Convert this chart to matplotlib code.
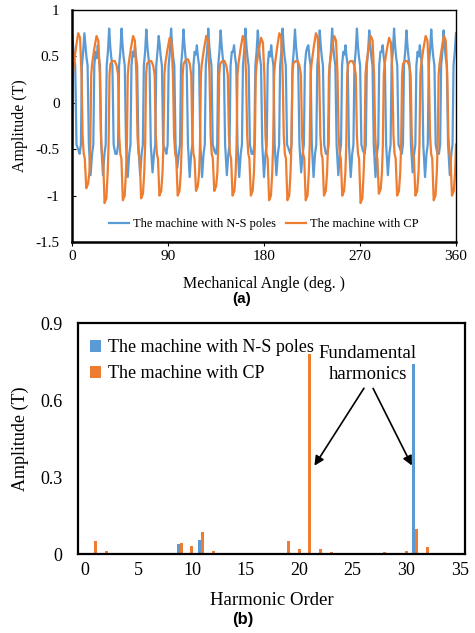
import numpy as np
import matplotlib.pyplot as plt

plt.rcParams['font.family'] = ['Liberation Serif', 'DejaVu Serif']

# =======================
# DATA
# =======================
# (a) air-gap flux density vs mechanical angle
NS_POLE_PAIRS = 31
CP_POLE_PAIRS = 21

# peak / trough of each electrical period
ns_peak = [0.75, 0.75, 0.48, 0.80, 0.80, 0.50, 0.79, 0.72, 0.80, 0.79, 0.52,
           0.80, 0.78, 0.55, 0.80, 0.78, 0.50, 0.80, 0.79, 0.60, 0.78, 0.80,
           0.52, 0.80, 0.78, 0.55, 0.80, 0.78, 0.50, 0.79, 0.78]
ns_trough = [-0.50, -0.78, -0.78, -0.55, -0.80, -0.78, -0.75, -0.50, -0.70,
             -0.80, -0.80, -0.52, -0.78, -0.80, -0.55, -0.80, -0.78, -0.50,
             -0.75, -0.80, -0.55, -0.78, -0.80, -0.52, -0.80, -0.78, -0.50,
             -0.75, -0.80, -0.55, -0.78]
cp_peak = [0.75, 0.72, 0.45, 0.72, 0.45, 0.70, 0.47, 0.72, 0.45, 0.72, 0.70,
           0.75, 0.45, 0.75, 0.72, 0.45, 0.72, 0.70, 0.45, 0.72, 0.72]
cp_trough = [-0.92, -1.08, -1.05, -1.03, -1.00, -1.00, -0.95, -0.95, -1.00,
             -1.00, -1.05, -1.05, -1.05, -1.00, -1.00, -1.08, -0.98, -1.00,
             -1.00, -1.05, -1.00]

# position inside one electrical period (0..1)
ns_phase = [0.0, 0.08, 0.16, 0.26, 0.36, 0.5, 0.62, 0.72, 0.8, 0.9]
cp_phase = [0.0, 0.05, 0.10, 0.22, 0.34, 0.44, 0.52, 0.58, 0.64, 0.70, 0.78, 0.88, 0.95]

# (b) harmonic spectrum
ns_order = [9, 11, 29, 31, 33]
ns_amp = [0.039, 0.056, 0.004, 0.74, 0.003]
cp_order = [1, 2, 4, 9, 10, 11, 12, 19, 20, 21, 22, 23, 28, 30, 31, 32]
cp_amp = [0.052, 0.010, 0.005, 0.043, 0.030, 0.086, 0.012, 0.050, 0.018,
          0.78, 0.018, 0.008, 0.006, 0.012, 0.099, 0.028]

BLUE = '#5B9BD5'
ORANGE = '#ED7D31'


def ns_cycle(hi, lo):
    return [hi, 0.62, 0.5, 0.4, -0.45, lo, -0.55, -0.45, 0.4, 0.55]


def cp_cycle(hi, lo):
    return [-0.45, 0.3, 0.42, (hi + 0.45) / 2, hi, hi - 0.05, 0.3, -0.35,
            -0.55, -0.6, lo, lo + 0.05, -0.75]


def build_wave(peaks, troughs, phase, cycle, end_value):
    period = 360.0 / len(peaks)
    ang, val = [], []
    for k, (hi, lo) in enumerate(zip(peaks, troughs)):
        ang += [(k + p) * period for p in phase]
        val += cycle(hi, lo)
    ang.append(360.0)
    val.append(end_value)
    return np.array(ang), np.array(val)


ns_ang, ns_val = build_wave(ns_peak, ns_trough, ns_phase, ns_cycle, ns_peak[0])
cp_ang, cp_val = build_wave(cp_peak, cp_trough, cp_phase, cp_cycle, -0.45)

# =======================
# FIGURE
# =======================
fig = plt.figure(figsize=(4.75, 6.33), dpi=100)
ax1 = fig.add_axes([0.1516, 0.6177, 0.8084, 0.3665])
ax2 = fig.add_axes([0.164, 0.1248, 0.815, 0.3649])

# ---- (a)
ax1.plot(ns_ang, ns_val, color=BLUE, lw=1.6, label='The machine with N-S poles')
ax1.plot(cp_ang, cp_val, color=ORANGE, lw=1.6, label='The machine with CP')
ax1.set_xlim(0, 360)
ax1.set_ylim(-1.5, 1)
ax1.set_xticks([0, 90, 180, 270, 360])
ax1.set_yticks([-1.5, -1, -0.5, 0, 0.5, 1])
ax1.set_yticklabels(['-1.5', '-1', '-0.5', '0', '0.5', '1'])
ax1.tick_params(axis='x', direction='out', length=3, labelsize=11, pad=3)
ax1.tick_params(axis='y', direction='in', length=3, labelsize=11, pad=9)
for side in ['left', 'bottom']:
    ax1.spines[side].set_linewidth(1.8)
for side in ['top', 'right']:
    ax1.spines[side].set_linewidth(1.0)
ax1.set_ylabel('Amplitude (T)', fontsize=11.5)
ax1.yaxis.set_label_coords(-0.115, 0.5)
ax1.set_xlabel('Mechanical Angle (deg. )', fontsize=11.5)
ax1.xaxis.set_label_coords(0.5, -0.145)
ax1.legend(loc='center', bbox_to_anchor=(0.5, 0.078), ncol=2, frameon=False,
           fontsize=9, handlelength=1.6, columnspacing=0.8, handletextpad=0.3)

# ---- (b)
bw = 0.28
ax2.bar(np.array(ns_order) - bw, ns_amp, width=bw, color=BLUE,
        label='The machine with N-S poles')
ax2.bar(cp_order, cp_amp, width=bw, color=ORANGE, label='The machine with CP')
ax2.set_xlim(-0.65, 35.5)
ax2.set_ylim(0, 0.9)
ax2.set_xticks(range(0, 36, 5))
ax2.set_yticks([0, 0.3, 0.6, 0.9])
ax2.set_yticklabels(['0', '0.3', '0.6', '0.9'])
ax2.tick_params(axis='both', length=0, labelsize=13)
ax2.tick_params(axis='x', pad=6)
ax2.tick_params(axis='y', pad=11)
for side in ax2.spines:
    ax2.spines[side].set_linewidth(1.6)
ax2.set_ylabel('Amplitude (T)', fontsize=13)
ax2.yaxis.set_label_coords(-0.127, 0.5)
ax2.set_xlabel('Harmonic Order', fontsize=13.5)
ax2.xaxis.set_label_coords(0.5, -0.165)
ax2.legend(loc='upper left', bbox_to_anchor=(-0.01, 1.0), frameon=False,
           fontsize=13, handlelength=0.6, handleheight=0.6, handletextpad=0.4,
           labelspacing=0.5)

ax2.text(26.4, 0.74, 'Fundamental\nharmonics', ha='center', va='center',
         fontsize=13.5, linespacing=1.25)
arrow = dict(arrowstyle='-|>', color='black', lw=1.2, mutation_scale=14)
ax2.annotate('', xy=(21.3, 0.335), xytext=(26.2, 0.655), arrowprops=arrow)
ax2.annotate('', xy=(30.65, 0.335), xytext=(26.8, 0.655), arrowprops=arrow)

fig.text(0.508, 0.528, '(a)', ha='center', va='center', fontsize=11,
         fontweight='bold', family='Liberation Sans')
fig.text(0.512, 0.022, '(b)', ha='center', va='center', fontsize=12,
         fontweight='bold', family='Liberation Sans')

fig.savefig('out.png', dpi=100)
